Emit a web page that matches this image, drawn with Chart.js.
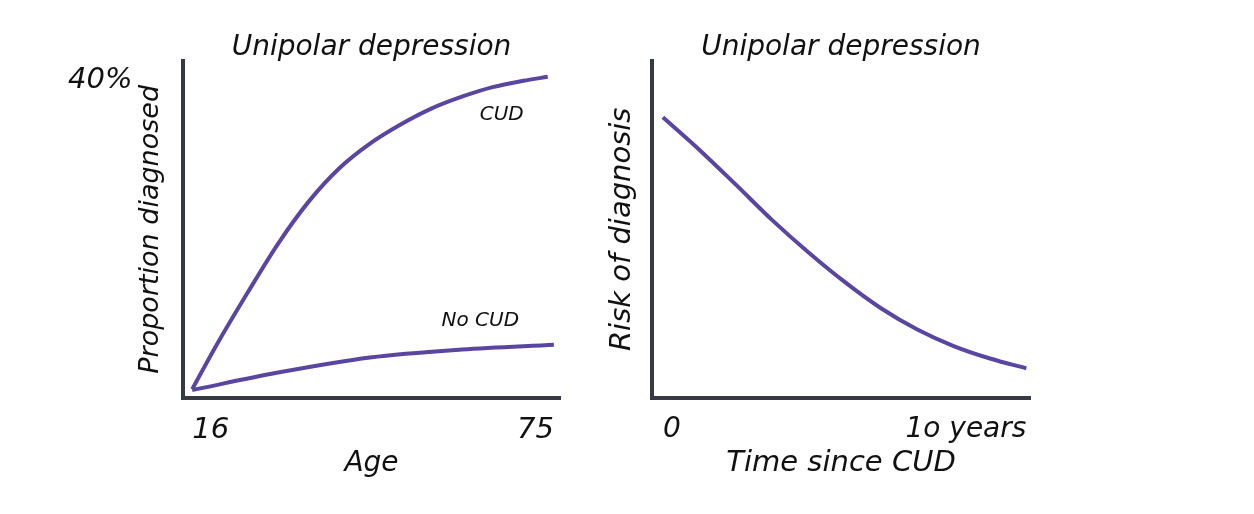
<!DOCTYPE html>
<html>
<head>
<meta charset="utf-8">
<script src="https://cdn.jsdelivr.net/npm/chart.js@4"></script>
<style>
  html, body { margin: 0; padding: 0; background: #fff; }
  #wrap { position: relative; width: 1254px; height: 514px; }
  #leftBox { position: absolute; left: 0; top: 0; width: 600px; height: 514px; }
  #rightBox { position: absolute; left: 600px; top: 0; width: 654px; height: 514px; }
</style>
</head>
<body>
<div id="wrap">
  <div id="leftBox"><canvas id="ageChart"></canvas></div>
  <div id="rightBox"><canvas id="timeChart"></canvas></div>
</div>
<script>
// Left panel: proportion diagnosed by age
var ages = [16, 20, 25, 30, 35, 40, 45, 50, 55, 60, 65, 70, 74];
var cudProportion = [1.1, 6.7, 13.2, 19.4, 24.7, 28.9, 32.0, 34.4, 36.4, 37.9, 39.1, 39.9, 40.4];
var noCudAges = [16, 30, 45, 60, 75];
var noCudProportion = [1.0, 3.2, 5.1, 6.1, 6.7];
var ageTicks = [16, 75];

// Right panel: risk of diagnosis by years since CUD
var years = [0, 1, 2, 3, 4, 5, 6, 7, 8, 9, 10];
var risk = [83.2, 73.6, 63.3, 52.8, 43.2, 34.4, 26.6, 20.3, 15.4, 11.7, 8.8];
var yearTicks = [0, 10];
var yearLabels = ["0", "1o years"];

var FONT = '"DejaVu Sans", "Open Sans", sans-serif';
var INK = "#111";
var AXIS = "#373a44";
var LINE = "#5a46a0";

function pts(xs, ys){ return xs.map(function(x, i){ return {x: x, y: ys[i]}; }); }
function hand(size){ return {family: FONT, size: size, style: "italic", weight: "normal", lineHeight: 1.2}; }

// draws the small series labels ("CUD", "No CUD") next to the curves
var seriesLabels = {
    id: "seriesLabels",
    afterDatasetsDraw: function(chart, args, opts){
        if(!opts.items) return;
        var ctx = chart.ctx, xs = chart.scales.x, ys = chart.scales.y;
        ctx.save();
        ctx.font = "italic 20px " + FONT;
        ctx.fillStyle = INK;
        ctx.textAlign = "center";
        ctx.textBaseline = "middle";
        opts.items.forEach(function(it){
            ctx.fillText(it.text, xs.getPixelForValue(it.x), ys.getPixelForValue(it.y));
        });
        ctx.restore();
    }
};

function lineSet(data){
    return {
        data: data,
        borderColor: LINE,
        borderWidth: 4,
        borderJoinStyle: "round",
        pointRadius: 0,
        fill: false,
        cubicInterpolationMode: "monotone"
    };
}

function titleOpts(){
    return {
        display: true,
        text: "Unipolar depression",
        fullSize: false,
        color: INK,
        font: hand(28),
        padding: {top: 31, bottom: -4}
    };
}

new Chart(document.getElementById("ageChart"), {
    type: "line",
    data: {
        datasets: [
            lineSet(pts(ages, cudProportion)),
            lineSet(pts(noCudAges, noCudProportion))
        ]
    },
    options: {
        responsive: true,
        maintainAspectRatio: false,
        animation: false,
        layout: {padding: {left: 68, right: 40, top: 0, bottom: 0}},
        plugins: {
            legend: {display: false},
            tooltip: {enabled: false},
            title: titleOpts(),
            seriesLabels: {items: [{text: "CUD", x: 66.5, y: 35.6}, {text: "No CUD", x: 63, y: 9.7}]}
        },
        scales: {
            x: {
                type: "linear",
                min: 14.5,
                max: 76,
                grid: {display: false, drawTicks: false},
                border: {display: true, color: AXIS, width: 4},
                afterBuildTicks: function(s){ s.ticks = ageTicks.map(function(v){ return {value: v}; }); },
                afterFit: function(s){ s.height = 116; },
                ticks: {align: "inner", color: INK, padding: 15, maxRotation: 0, font: hand(29)},
                title: {display: true, text: "Age", color: INK, padding: {top: 0, bottom: 33}, font: hand(28)}
            },
            y: {
                min: 0,
                max: 42.44,
                grid: {display: false, drawTicks: false},
                border: {display: true, color: AXIS, width: 4},
                afterBuildTicks: function(s){ s.ticks = [{value: 40}]; },
                afterFit: function(s){ s.width = 115; },
                ticks: {crossAlign: "far", color: INK, padding: 0, font: hand(29),
                        callback: function(v){ return v + "%"; }},
                title: {display: true, text: "Proportion diagnosed", color: INK, padding: {top: 67, bottom: 0}, font: hand(27)}
            }
        }
    },
    plugins: [seriesLabels]
});

new Chart(document.getElementById("timeChart"), {
    type: "line",
    data: {
        datasets: [lineSet(pts(years, risk))]
    },
    options: {
        responsive: true,
        maintainAspectRatio: false,
        animation: false,
        layout: {padding: {left: 0, right: 224, top: 0, bottom: 0}},
        plugins: {
            legend: {display: false},
            tooltip: {enabled: false},
            title: titleOpts()
        },
        scales: {
            x: {
                type: "linear",
                min: -0.3,
                max: 10.1,
                grid: {display: false, drawTicks: false},
                border: {display: true, color: AXIS, width: 4},
                afterBuildTicks: function(s){ s.ticks = yearTicks.map(function(v){ return {value: v}; }); },
                afterFit: function(s){ s.height = 116; },
                ticks: {align: "inner", color: INK, padding: 15, maxRotation: 0, font: hand(28),
                        callback: function(v, i){ return yearLabels[i]; }},
                title: {display: true, text: "Time since CUD", color: INK, padding: {top: 0, bottom: 33}, font: hand(29)}
            },
            y: {
                min: 0,
                max: 100,
                grid: {display: false, drawTicks: false},
                border: {display: true, color: AXIS, width: 4},
                ticks: {display: false},
                afterFit: function(s){ s.width = 52; },
                title: {display: true, text: "Risk of diagnosis", color: INK, padding: {top: 5, bottom: 0}, font: hand(29)}
            }
        }
    }
});
</script>
</body>
</html>
